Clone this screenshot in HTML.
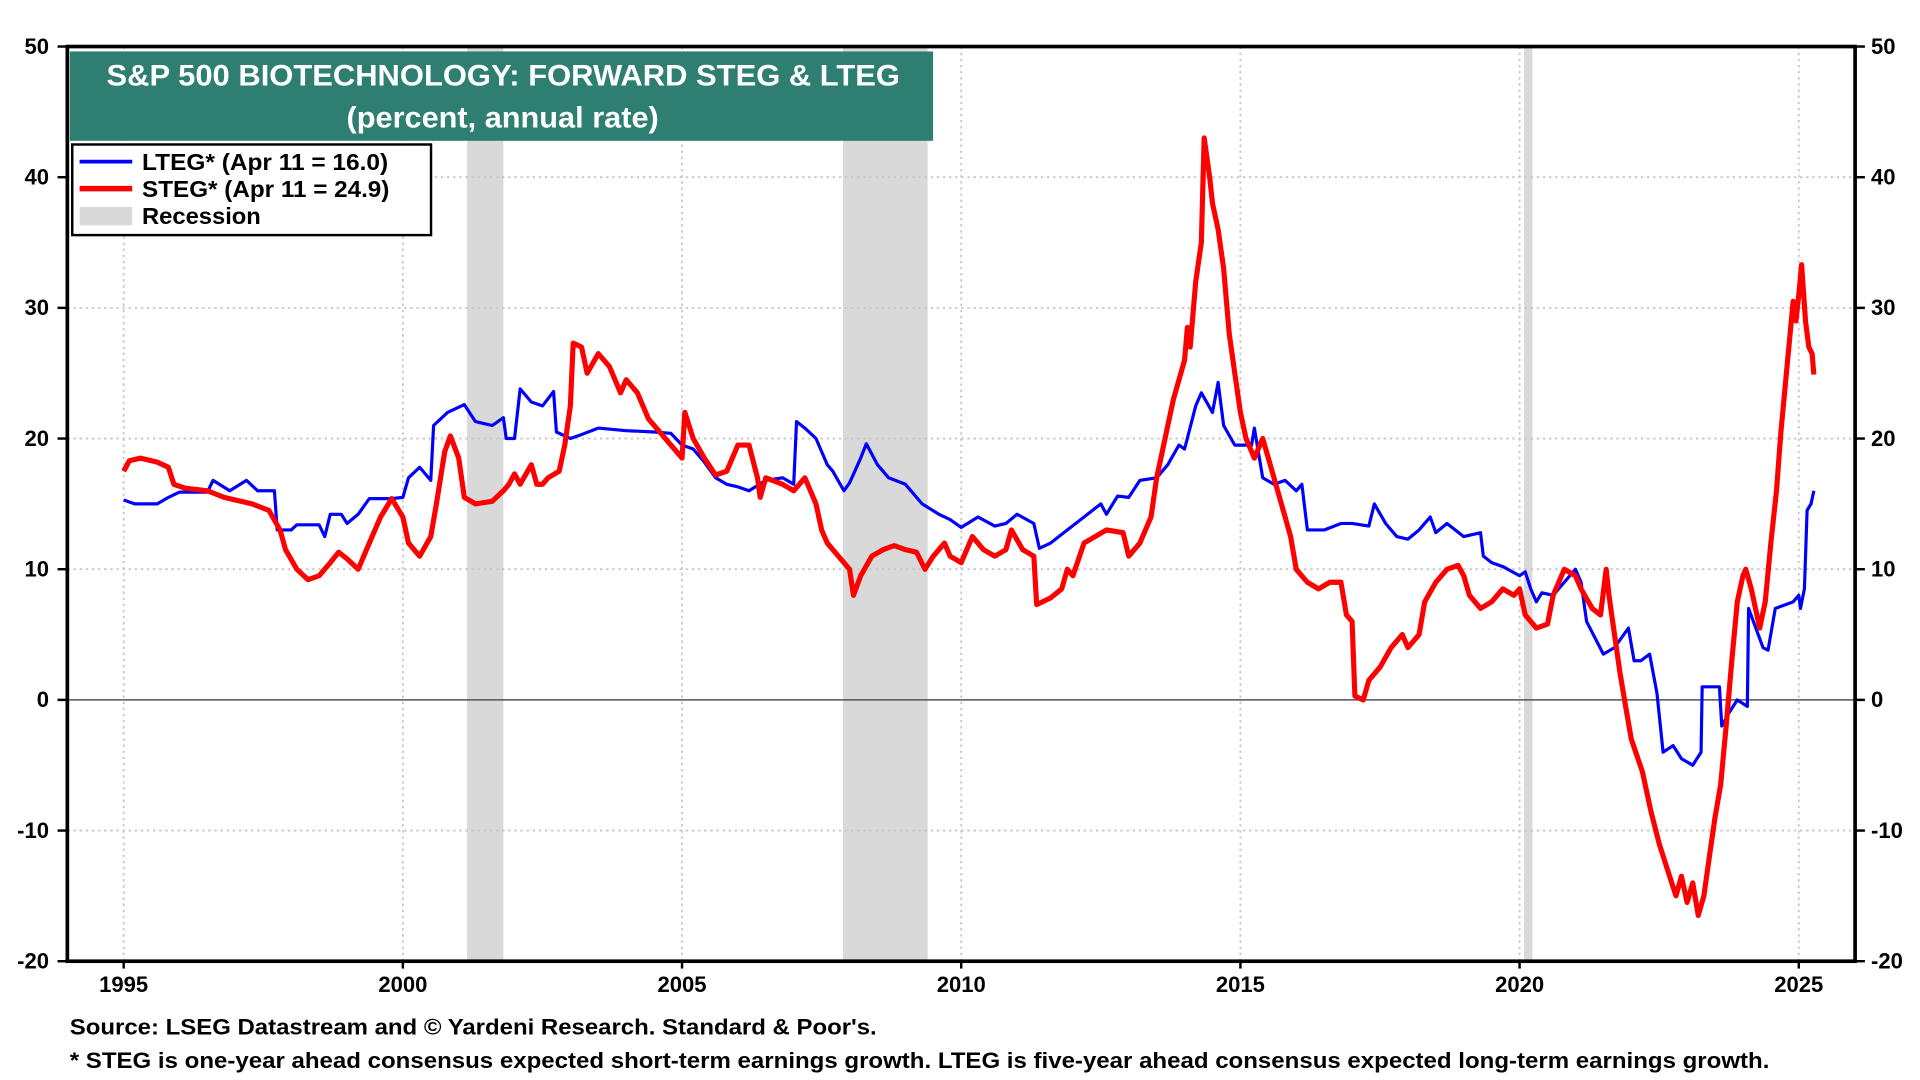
<!DOCTYPE html>
<html><head><meta charset="utf-8"><style>
html,body{margin:0;padding:0;background:#fff;}
svg{display:block;font-family:"Liberation Sans",Arial,sans-serif;}
</style></head><body>
<svg id="chart" width="1920" height="1080" viewBox="0 0 1568 882" preserveAspectRatio="none" xmlns="http://www.w3.org/2000/svg">
<g id="rec"></g>
<g id="grid"></g>
<g id="series"></g>
<rect x="55" y="38" width="1460" height="747" fill="none" stroke="#000" stroke-width="3"/>
<g id="ticks" font-weight="bold" font-size="18" fill="#000"></g>
<g>
<rect x="57" y="42" width="705" height="73" fill="#2e7f71"/>
<text x="87" y="70" fill="#fff" font-weight="bold" font-size="24" textLength="648" lengthAdjust="spacingAndGlyphs">S&amp;P 500 BIOTECHNOLOGY: FORWARD STEG &amp; LTEG</text>
<text x="283" y="104" fill="#fff" font-weight="bold" font-size="24" textLength="255" lengthAdjust="spacingAndGlyphs">(percent, annual rate)</text>
</g>
<g font-weight="bold" font-size="19">
<rect x="59" y="118" width="293" height="74" fill="#fff" stroke="#000" stroke-width="2"/>
<line x1="65" y1="132" x2="108" y2="132" stroke="#0000ff" stroke-width="3"/>
<text x="116" y="139" textLength="201" lengthAdjust="spacingAndGlyphs">LTEG* (Apr 11 = 16.0)</text>
<line x1="65" y1="154" x2="108" y2="154" stroke="#ff0000" stroke-width="4.5"/>
<text x="116" y="161" textLength="202" lengthAdjust="spacingAndGlyphs">STEG* (Apr 11 = 24.9)</text>
<rect x="65" y="169" width="43" height="15" fill="#d9d9d9"/>
<text x="116" y="183" textLength="97" lengthAdjust="spacingAndGlyphs">Recession</text>
</g>
<text x="57" y="845" font-weight="bold" font-size="18" textLength="659" lengthAdjust="spacingAndGlyphs">Source: LSEG Datastream and © Yardeni Research. Standard &amp; Poor's.</text>
<text x="57" y="872" font-weight="bold" font-size="18" textLength="1388" lengthAdjust="spacingAndGlyphs">* STEG is one-year ahead consensus expected short-term earnings growth. LTEG is five-year ahead consensus expected long-term earnings growth.</text>
</svg>
<script>
const recessions=[[2001.15,2001.8],[2007.88,2009.4],[2020.08,2020.23]];
const yTicks=[50,40,30,20,10,0,-10,-20];
const xTicks=[1995,2000,2005,2010,2015,2020,2025];
const ltegYears=[1995.0,1995.2,1995.6,1995.8,1996.0,1996.5,1996.6,1996.9,1997.2,1997.4,1997.7,1997.75,1998.0,1998.1,1998.5,1998.6,1998.7,1998.9,1999.0,1999.2,1999.4,1999.8,2000.0,2000.1,2000.3,2000.5,2000.55,2000.8,2001.1,2001.3,2001.6,2001.8,2001.85,2002.0,2002.1,2002.3,2002.5,2002.7,2002.75,2003.0,2003.2,2003.5,2004.0,2004.5,2004.8,2005.0,2005.2,2005.4,2005.6,2005.8,2006.0,2006.2,2006.5,2006.8,2007.0,2007.05,2007.2,2007.4,2007.6,2007.7,2007.9,2008.0,2008.2,2008.3,2008.5,2008.7,2009.0,2009.3,2009.6,2009.8,2010.0,2010.3,2010.6,2010.8,2011.0,2011.3,2011.4,2011.6,2011.9,2012.2,2012.5,2012.6,2012.8,2013.0,2013.2,2013.5,2013.7,2013.9,2014.0,2014.2,2014.3,2014.5,2014.6,2014.7,2014.9,2015.2,2015.25,2015.4,2015.6,2015.8,2016.0,2016.1,2016.2,2016.5,2016.8,2017.0,2017.3,2017.4,2017.6,2017.8,2018.0,2018.2,2018.4,2018.5,2018.7,2019.0,2019.3,2019.35,2019.5,2019.7,2020.0,2020.1,2020.2,2020.3,2020.4,2020.6,2020.8,2021.0,2021.1,2021.2,2021.5,2021.7,2021.95,2022.05,2022.17,2022.33,2022.46,2022.57,2022.75,2022.9,2023.1,2023.25,2023.27,2023.58,2023.62,2023.75,2023.9,2024.08,2024.1,2024.36,2024.45,2024.58,2024.9,2025.0,2025.03,2025.1,2025.15,2025.22,2025.27];
const ltegValues=[15.3,15.0,15.0,15.5,15.9,15.9,16.8,16.0,16.8,16.0,16.0,13.0,13.0,13.4,13.4,12.5,14.2,14.2,13.5,14.2,15.4,15.4,15.5,17.0,17.8,16.8,21.0,22.0,22.6,21.3,21.0,21.6,20.0,20.0,23.8,22.8,22.5,23.6,20.5,20.0,20.3,20.8,20.6,20.5,20.4,19.5,19.2,18.2,17.0,16.5,16.3,16.0,16.8,17.0,16.5,21.3,20.8,20.0,18.0,17.5,16.0,16.6,18.5,19.6,18.0,17.0,16.5,15.0,14.2,13.8,13.2,14.0,13.3,13.5,14.2,13.5,11.6,12.0,13.0,14.0,15.0,14.2,15.6,15.5,16.8,17.0,18.0,19.5,19.2,22.5,23.5,22.0,24.3,21.0,19.5,19.5,20.8,17.0,16.5,16.8,16.0,16.5,13.0,13.0,13.5,13.5,13.3,15.0,13.5,12.5,12.3,13.0,14.0,12.8,13.5,12.5,12.8,11.0,10.5,10.2,9.5,9.8,8.5,7.5,8.2,8.0,9.0,10.0,9.0,6.0,3.5,4.0,5.5,3.0,3.0,3.5,0.5,-4.0,-3.5,-4.5,-5.0,-4.0,1.0,1.0,-2.0,-1.0,0.0,-0.5,7.0,4.0,3.8,7.0,7.5,8.0,7.0,8.5,14.5,15.0,16.0];
const stegYears=[1995.0,1995.1,1995.3,1995.6,1995.8,1995.9,1996.1,1996.5,1996.8,1997.0,1997.3,1997.6,1997.8,1997.9,1998.1,1998.3,1998.5,1998.7,1998.85,1999.0,1999.2,1999.4,1999.6,1999.8,2000.0,2000.1,2000.3,2000.5,2000.6,2000.75,2000.85,2001.0,2001.1,2001.3,2001.6,2001.8,2001.9,2002.0,2002.1,2002.3,2002.4,2002.5,2002.6,2002.8,2002.9,2003.0,2003.05,2003.2,2003.3,2003.5,2003.7,2003.9,2004.0,2004.2,2004.4,2004.6,2004.8,2005.0,2005.05,2005.2,2005.4,2005.6,2005.8,2006.0,2006.2,2006.35,2006.4,2006.5,2006.8,2007.0,2007.2,2007.4,2007.5,2007.6,2007.8,2008.0,2008.07,2008.2,2008.4,2008.6,2008.8,2009.0,2009.2,2009.35,2009.5,2009.7,2009.8,2010.0,2010.2,2010.4,2010.6,2010.8,2010.9,2011.1,2011.3,2011.35,2011.6,2011.8,2011.9,2012.0,2012.2,2012.4,2012.6,2012.9,2013.0,2013.2,2013.4,2013.5,2013.6,2013.7,2013.8,2014.0,2014.05,2014.1,2014.2,2014.3,2014.35,2014.45,2014.5,2014.6,2014.7,2014.8,2014.9,2015.0,2015.1,2015.25,2015.4,2015.5,2015.6,2015.8,2015.9,2016.0,2016.2,2016.4,2016.6,2016.8,2016.9,2017.0,2017.05,2017.2,2017.3,2017.5,2017.7,2017.9,2018.0,2018.2,2018.3,2018.5,2018.7,2018.9,2019.0,2019.1,2019.3,2019.5,2019.7,2019.9,2020.0,2020.1,2020.3,2020.5,2020.6,2020.8,2021.0,2021.1,2021.3,2021.45,2021.55,2021.6,2021.7,2021.8,2021.9,2022.0,2022.2,2022.35,2022.5,2022.65,2022.8,2022.9,2023.0,2023.1,2023.2,2023.3,2023.4,2023.5,2023.6,2023.7,2023.8,2023.9,2024.0,2024.05,2024.15,2024.3,2024.4,2024.5,2024.6,2024.68,2024.8,2024.9,2024.95,2025.0,2025.05,2025.12,2025.18,2025.24,2025.27];
const stegValues=[17.5,18.3,18.5,18.2,17.8,16.5,16.2,16.0,15.5,15.3,15.0,14.5,13.0,11.5,10.0,9.2,9.5,10.5,11.3,10.8,10.0,12.0,14.0,15.4,14.0,12.0,11.0,12.5,15.0,19.0,20.2,18.5,15.5,15.0,15.2,16.0,16.5,17.3,16.5,18.0,16.5,16.5,17.0,17.5,19.5,22.5,27.3,27.0,25.0,26.5,25.5,23.5,24.5,23.5,21.5,20.5,19.5,18.5,22.0,20.0,18.5,17.2,17.5,19.5,19.5,17.0,15.5,17.0,16.5,16.0,17.0,15.0,13.0,12.0,11.0,10.0,8.0,9.5,11.0,11.5,11.8,11.5,11.3,10.0,11.0,12.0,11.0,10.5,12.5,11.5,11.0,11.5,13.0,11.5,11.0,7.3,7.8,8.5,10.0,9.5,12.0,12.5,13.0,12.8,11.0,12.0,14.0,17.0,19.0,21.0,23.0,26.0,28.5,27.0,32.0,35.0,43.0,40.0,38.0,36.0,33.0,28.0,25.0,22.0,20.0,18.5,20.0,18.5,17.0,14.0,12.5,10.0,9.0,8.5,9.0,9.0,6.5,6.0,0.3,0.0,1.5,2.5,4.0,5.0,4.0,5.0,7.5,9.0,10.0,10.3,9.5,8.0,7.0,7.5,8.5,8.0,8.5,6.5,5.5,5.8,8.0,10.0,9.5,8.5,7.0,6.5,10.0,8.0,5.0,2.0,-0.5,-3.0,-5.5,-8.5,-11.0,-13.0,-15.0,-13.5,-15.5,-14.0,-16.5,-15.0,-12.0,-9.0,-6.5,-2.0,3.0,7.5,9.5,10.0,8.5,5.5,7.5,12.0,16.0,20.5,26.0,30.5,29.0,31.0,33.3,29.0,27.0,26.5,24.9];

const L=55,R=1515,T=38,B=785;
const X0=101,X1=1469;
function xs(yr){return X0+(yr-1995)*(X1-X0)/30;}
function ys(v){return T+(50-v)*(B-T)/70;}
const NS='http://www.w3.org/2000/svg';
function mk(tag,attrs,parent){const e=document.createElementNS(NS,tag);for(const k in attrs)e.setAttribute(k,attrs[k]);parent.appendChild(e);return e;}

const rec=document.getElementById('rec');
recessions.forEach(r=>{
  const e=mk('rect',{x:xs(r[0]),y:T,width:xs(r[1])-xs(r[0]),height:B-T,fill:'#d9d9d9'},rec);
  
  
});
const grid=document.getElementById('grid');
const ticks=document.getElementById('ticks');
yTicks.forEach(v=>{
  const y=ys(v);
  if(v!==0&&v!==50&&v!==-20){
    const g=mk('line',{x1:L,x2:R,y1:y,y2:y,stroke:'#c8c8c8','stroke-width':1.5,'stroke-dasharray':'2,3'},grid);
    
    
  }
  if(v===0){
    const z=mk('line',{x1:L,x2:R,y1:y,y2:y,stroke:'#555','stroke-width':1.2},grid);
    
    
  }
  const t1=mk('text',{x:L-15,y:y+6,'text-anchor':'end'},ticks);t1.textContent=v;
  
  
  const t2=mk('text',{x:R+13,y:y+6,'text-anchor':'start'},ticks);t2.textContent=v;
  
  
  mk('line',{x1:L-8,x2:L,y1:y,y2:y,stroke:'#000','stroke-width':2},ticks);
  mk('line',{x1:R,x2:R+8,y1:y,y2:y,stroke:'#000','stroke-width':2},ticks);
});
xTicks.forEach(yr=>{
  const x=xs(yr);
  const g=mk('line',{x1:x,x2:x,y1:T,y2:B,stroke:'#c8c8c8','stroke-width':1.5,'stroke-dasharray':'2,3'},grid);
  
  
  const t=mk('text',{x:x,y:B+25,'text-anchor':'middle'},ticks);t.textContent=yr;
  
  
  mk('line',{x1:x,x2:x,y1:B,y2:B+6,stroke:'#000','stroke-width':2},ticks);
});
const series=document.getElementById('series');
function path(xsArr,vs){return xsArr.map((yr,i)=>(i?'L':'M')+xs(yr).toFixed(1)+','+ys(vs[i]).toFixed(1)).join('');}
const pl=mk('path',{d:path(ltegYears,ltegValues),fill:'none',stroke:'#0000ff','stroke-width':2.6,'stroke-linejoin':'round'},series);


const ps=mk('path',{d:path(stegYears,stegValues),fill:'none',stroke:'#ff0000','stroke-width':4.2,'stroke-linejoin':'round'},series);


</script>
</body></html>
